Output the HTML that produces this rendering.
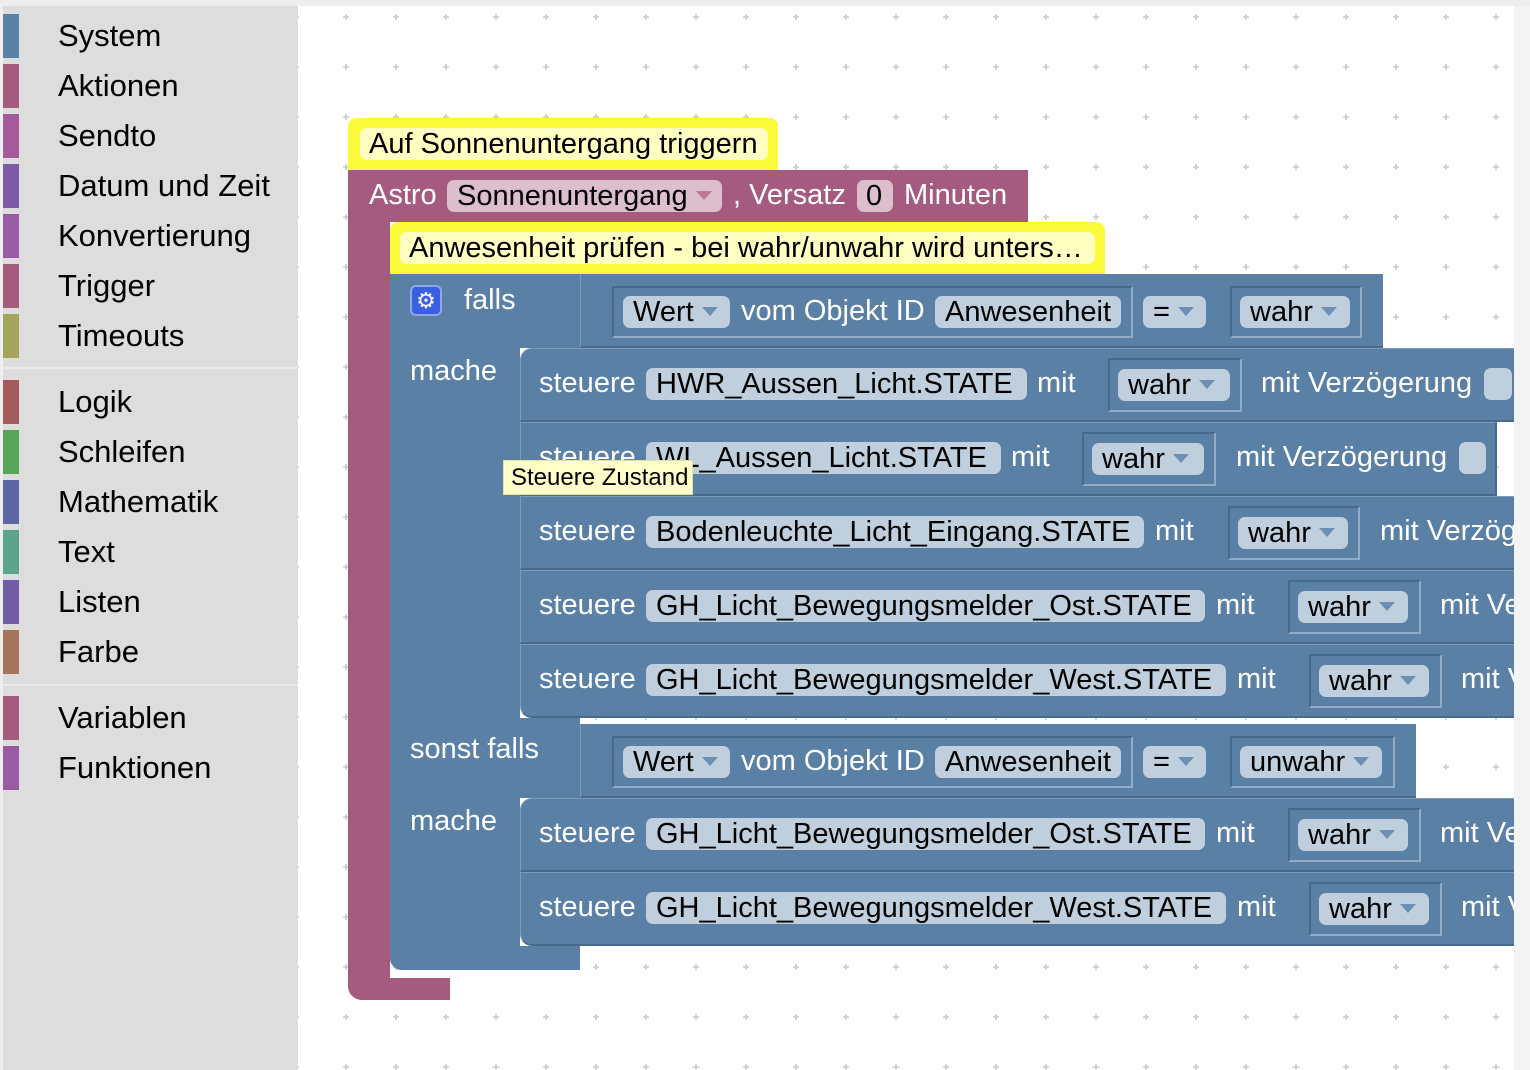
<!DOCTYPE html>
<html><head><meta charset="utf-8">
<style>
*{box-sizing:border-box;margin:0;padding:0}
body{width:1530px;height:1070px;overflow:hidden;background:#eee;font-family:"Liberation Sans",Arial,sans-serif;position:relative}
.abs{position:absolute}
#side{left:3px;top:6px;width:295px;height:1064px;background:#ddd}
.cat{position:absolute;left:0;height:44px;width:295px}
.cat i{position:absolute;left:0;top:0;width:16px;height:44px}
.cat span{position:absolute;left:55px;top:0;line-height:44px;font-size:31px;color:#000}
.sep{position:absolute;left:0;width:295px;height:2px;background:#eaeaea}
#ws{left:298px;top:6px;width:1216px;height:1064px;background:#fff}
#rs{left:1514px;top:6px;width:16px;height:1064px;background:#f4f4f4}
.blue{background:#5b80a5;position:absolute}
.purp{background:#a55b80;position:absolute}
.yel{background:#fbfb3c;position:absolute;border-radius:8px 8px 0 0}
.yf{position:absolute;background:#ffffc2;border-radius:7px;color:#000;font-size:29px;line-height:32px;padding-left:9px;white-space:nowrap;overflow:hidden}
.t{position:absolute;color:#fff;font-size:29px;white-space:nowrap;line-height:32px}
.f{position:absolute;background:#c0cfde;border-radius:7px;color:#000;font-size:29px;line-height:32px;height:32px;padding-left:10px;white-space:nowrap;overflow:hidden}
.pf{position:absolute;background:#dcbecd;border-radius:7px;color:#000;font-size:29px;line-height:32px;height:32px;padding-left:10px;white-space:nowrap}
.arr{display:inline-block;width:0;height:0;border-left:8px solid transparent;border-right:8px solid transparent;border-top:9px solid #6d8fb3;vertical-align:middle;margin-left:8px;margin-top:-3px}
.pf .arr{border-top-color:#b97a9a}
.ol{position:absolute;border-top:2px solid #46698c;border-left:2px solid #46698c;border-bottom:2px solid #93abc4;border-right:2px solid #93abc4}
.row{position:absolute;background:#5b80a5;border-bottom:2px solid #46698c;border-top:1px solid #7d9bb9;border-left:1px solid #7d9bb9}
</style></head><body>
<div id="side" class="abs">
<div class="cat" style="top:8px"><i style="background:#5b80a5"></i><span>System</span></div>
<div class="cat" style="top:58px"><i style="background:#a55b80"></i><span>Aktionen</span></div>
<div class="cat" style="top:108px"><i style="background:#a55b99"></i><span>Sendto</span></div>
<div class="cat" style="top:158px"><i style="background:#805ba5"></i><span>Datum und Zeit</span></div>
<div class="cat" style="top:208px"><i style="background:#995ba5"></i><span>Konvertierung</span></div>
<div class="cat" style="top:258px"><i style="background:#a55b80"></i><span>Trigger</span></div>
<div class="cat" style="top:308px"><i style="background:#a5a55b"></i><span>Timeouts</span></div>
<div class="sep" style="top:361px"></div>
<div class="cat" style="top:374px"><i style="background:#a55b5b"></i><span>Logik</span></div>
<div class="cat" style="top:424px"><i style="background:#5ba55b"></i><span>Schleifen</span></div>
<div class="cat" style="top:474px"><i style="background:#5b67a5"></i><span>Mathematik</span></div>
<div class="cat" style="top:524px"><i style="background:#5ba58c"></i><span>Text</span></div>
<div class="cat" style="top:574px"><i style="background:#745ba5"></i><span>Listen</span></div>
<div class="cat" style="top:624px"><i style="background:#a5745b"></i><span>Farbe</span></div>
<div class="sep" style="top:678px"></div>
<div class="cat" style="top:690px"><i style="background:#a55b80"></i><span>Variablen</span></div>
<div class="cat" style="top:740px"><i style="background:#995ba5"></i><span>Funktionen</span></div>
</div>
<div id="ws" class="abs">
<svg width="1216" height="1064" style="position:absolute;left:0;top:0">
<defs><pattern id="p" x="44" y="7" width="50" height="50" patternUnits="userSpaceOnUse">
<path d="M1 4h6M4 1v6" stroke="#c8c8c8" stroke-width="1.5"/></pattern></defs>
<rect width="1216" height="1064" fill="url(#p)"/></svg>
</div>
<div id="rs" class="abs"></div>

<div class="purp" style="left:348px;top:170px;width:680px;height:52px"></div>
<div class="purp" style="left:348px;top:200px;width:42px;height:800px;border-radius:0 0 0 14px"></div>
<div class="purp" style="left:348px;top:978px;width:102px;height:22px;border-radius:0 0 0 14px"></div>
<div class="t" style="left:369px;top:179px">Astro</div>
<div class="pf" style="left:447px;top:180px;width:275px">Sonnenuntergang<span class="arr"></span></div>
<div class="t" style="left:733px;top:179px">, Versatz</div>
<div class="pf" style="left:857px;top:180px;width:36px;padding-left:9px">0</div>
<div class="t" style="left:904px;top:179px">Minuten</div>

<div class="yel" style="left:348px;top:118px;width:430px;height:52px"></div>
<div class="yf" style="left:360px;top:128px;width:408px;height:32px">Auf Sonnenuntergang triggern</div>

<div class="blue" style="left:390px;top:274px;width:190px;height:74px"></div>
<div class="blue" style="left:390px;top:274px;width:130px;height:696px;border-radius:0 0 0 12px"></div>
<div class="blue" style="left:390px;top:718px;width:190px;height:80px"></div>
<div class="blue" style="left:390px;top:946px;width:190px;height:24px;border-radius:0 0 0 12px"></div>

<div class="yel" style="left:390px;top:222px;width:715px;height:52px"></div>
<div class="yf" style="left:400px;top:232px;width:695px;height:32px">Anwesenheit prüfen - bei wahr/unwahr wird unters…</div>

<div class="abs" style="left:410px;top:285px;width:32px;height:31px;background:#3a5fe0;border-radius:6px;border:2px solid #8fa6e8;color:#fff;font-size:22px;line-height:27px;text-align:center">⚙</div>
<div class="t" style="left:464px;top:284px">falls</div>
<div class="t" style="left:410px;top:355px">mache</div>
<div class="t" style="left:410px;top:733px">sonst falls</div>
<div class="t" style="left:410px;top:805px">mache</div>

<div class="blue" style="left:580px;top:274px;width:803px;height:74px;border-bottom:2px solid #46698c;border-left:1px solid #7d9bb9"></div>
<div class="ol" style="left:612px;top:286px;width:521px;height:52px"></div>
<div class="f" style="left:623px;top:296px;width:107px">Wert<span class="arr"></span></div>
<div class="t" style="left:741px;top:295px">vom Objekt ID</div>
<div class="f" style="left:935px;top:296px;width:186px">Anwesenheit</div>
<div class="f" style="left:1143px;top:296px;width:63px">=<span class="arr"></span></div>
<div class="ol" style="left:1230px;top:286px;width:132px;height:52px"></div>
<div class="f" style="left:1240px;top:296px;width:110px">wahr<span class="arr"></span></div>

<div class="blue" style="left:580px;top:724px;width:836px;height:74px;border-bottom:2px solid #46698c;border-left:1px solid #7d9bb9"></div>
<div class="ol" style="left:612px;top:736px;width:521px;height:52px"></div>
<div class="f" style="left:623px;top:746px;width:107px">Wert<span class="arr"></span></div>
<div class="t" style="left:741px;top:745px">vom Objekt ID</div>
<div class="f" style="left:935px;top:746px;width:186px">Anwesenheit</div>
<div class="f" style="left:1143px;top:746px;width:63px">=<span class="arr"></span></div>
<div class="ol" style="left:1230px;top:736px;width:165px;height:52px"></div>
<div class="f" style="left:1240px;top:746px;width:142px">unwahr<span class="arr"></span></div>

<div class="row" style="left:520px;top:348px;width:994px;height:74px;border-radius:12px 0 0 0"></div>
<div class="t" style="left:539px;top:367px">steuere</div>
<div class="f" style="left:646px;top:368px;width:381px">HWR_Aussen_Licht.STATE</div>
<div class="t" style="left:1037px;top:367px">mit</div>
<div class="ol" style="left:1108px;top:358px;width:134px;height:54px"></div>
<div class="f" style="left:1118px;top:369px;width:112px">wahr<span class="arr"></span></div>
<div class="t" style="left:1261px;top:367px">mit Verzögerung</div>
<div class="f" style="left:1484px;top:368px;width:28px"></div>

<div class="row" style="left:520px;top:422px;width:977px;height:74px;border-right:2px solid #46698c"></div>
<div class="t" style="left:539px;top:441px">steuere</div>
<div class="f" style="left:646px;top:442px;width:355px">WL_Aussen_Licht.STATE</div>
<div class="t" style="left:1011px;top:441px">mit</div>
<div class="ol" style="left:1082px;top:432px;width:134px;height:54px"></div>
<div class="f" style="left:1092px;top:443px;width:112px">wahr<span class="arr"></span></div>
<div class="t" style="left:1236px;top:441px">mit Verzögerung</div>
<div class="f" style="left:1459px;top:442px;width:27px"></div>

<div class="row" style="left:520px;top:496px;width:994px;height:74px"></div>
<div class="t" style="left:539px;top:515px">steuere</div>
<div class="f" style="left:646px;top:516px;width:498px">Bodenleuchte_Licht_Eingang.STATE</div>
<div class="t" style="left:1155px;top:515px">mit</div>
<div class="ol" style="left:1228px;top:506px;width:132px;height:54px"></div>
<div class="f" style="left:1238px;top:517px;width:110px">wahr<span class="arr"></span></div>
<div class="t" style="left:1380px;top:515px;width:134px;overflow:hidden">mit Verzögerung</div>

<div class="row" style="left:520px;top:570px;width:994px;height:74px"></div>
<div class="t" style="left:539px;top:589px">steuere</div>
<div class="f" style="left:646px;top:590px;width:559px">GH_Licht_Bewegungsmelder_Ost.STATE</div>
<div class="t" style="left:1216px;top:589px">mit</div>
<div class="ol" style="left:1288px;top:580px;width:133px;height:54px"></div>
<div class="f" style="left:1298px;top:591px;width:110px">wahr<span class="arr"></span></div>
<div class="t" style="left:1440px;top:589px;width:74px;overflow:hidden">mit Verzögerung</div>

<div class="row" style="left:520px;top:644px;width:994px;height:74px;border-radius:0 0 0 12px"></div>
<div class="t" style="left:539px;top:663px">steuere</div>
<div class="f" style="left:646px;top:664px;width:580px">GH_Licht_Bewegungsmelder_West.STATE</div>
<div class="t" style="left:1237px;top:663px">mit</div>
<div class="ol" style="left:1309px;top:654px;width:133px;height:54px"></div>
<div class="f" style="left:1319px;top:665px;width:110px">wahr<span class="arr"></span></div>
<div class="t" style="left:1461px;top:663px;width:53px;overflow:hidden">mit Verzögerung</div>

<div class="row" style="left:520px;top:798px;width:994px;height:74px;border-radius:12px 0 0 0"></div>
<div class="t" style="left:539px;top:817px">steuere</div>
<div class="f" style="left:646px;top:818px;width:559px">GH_Licht_Bewegungsmelder_Ost.STATE</div>
<div class="t" style="left:1216px;top:817px">mit</div>
<div class="ol" style="left:1288px;top:808px;width:133px;height:54px"></div>
<div class="f" style="left:1298px;top:819px;width:110px">wahr<span class="arr"></span></div>
<div class="t" style="left:1440px;top:817px;width:74px;overflow:hidden">mit Verzögerung</div>

<div class="row" style="left:520px;top:872px;width:994px;height:74px;border-radius:0 0 0 12px"></div>
<div class="t" style="left:539px;top:891px">steuere</div>
<div class="f" style="left:646px;top:892px;width:580px">GH_Licht_Bewegungsmelder_West.STATE</div>
<div class="t" style="left:1237px;top:891px">mit</div>
<div class="ol" style="left:1309px;top:882px;width:133px;height:54px"></div>
<div class="f" style="left:1319px;top:893px;width:110px">wahr<span class="arr"></span></div>
<div class="t" style="left:1461px;top:891px;width:53px;overflow:hidden">mit Verzögerung</div>

<div class="abs" style="left:503px;top:460px;width:190px;height:35px;background:#ffffc7;border:1px solid #e0e0a8;font-size:24px;line-height:33px;padding-left:7px;color:#000;white-space:nowrap;overflow:hidden">Steuere Zustand</div>
</body></html>
